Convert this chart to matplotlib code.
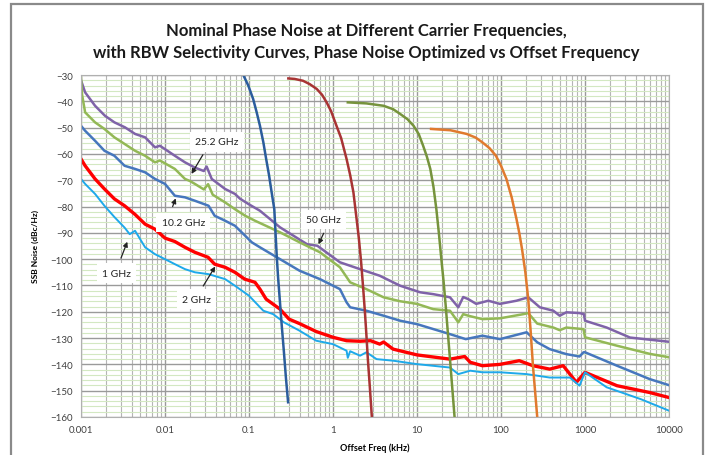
import matplotlib
matplotlib.use("Agg")
import matplotlib.pyplot as plt
from matplotlib.patches import Rectangle
from matplotlib.ticker import FixedLocator, NullFormatter

plt.rcParams['font.family'] = ['Lato', 'DejaVu Sans']

# phase noise curves (offset kHz, dBc/Hz)
ghz50_x = [0.001, 0.00112, 0.00147, 0.00193, 0.0025, 0.00334, 0.0044, 0.0058, 0.0076, 0.0087,
           0.0131, 0.0173, 0.0227, 0.029, 0.0313, 0.036, 0.0518, 0.068, 0.078, 0.098, 0.135,
           0.234, 0.49, 0.65, 1.21, 2.1, 3.6, 6.3, 10.9, 15.6, 24.7, 31, 35.5, 40.8, 50.7, 70.6,
           97, 153, 211, 290, 420, 500, 600, 860, 970, 1000, 1811, 3435, 10000]
ghz50_y = [-32, -36.6, -41.7, -45.5, -48, -49.9, -52.4, -53.7, -57.5, -56.9,
           -60.7, -63.2, -65.2, -66.5, -64.8, -69.5, -73.3, -75.2, -77, -79, -81.6,
           -87.9, -94.3, -94.9, -101.2, -103.8, -106.3, -110.1, -112.6, -113.3, -114.5, -118.3,
           -114.4, -115.2, -117, -115.8, -117, -115.8, -114.5, -118.3, -119.6, -121.5, -120.2,
           -120.5, -120.9, -123.4, -126, -129.8, -131.4]

ghz25_x = [0.001, 0.00103, 0.00112, 0.00147, 0.0019, 0.0025, 0.0033, 0.0044, 0.0058, 0.0076,
           0.0087, 0.0131, 0.0173, 0.0198, 0.0227, 0.029, 0.0326, 0.037, 0.0518, 0.068, 0.09,
           0.118, 0.234, 0.4, 0.7, 1.21, 1.6, 2.5, 4, 6.3, 10, 15.6, 24.7, 31, 35.5, 40.8, 60,
           97, 185, 211, 270, 420, 500, 600, 960, 1000, 2400, 5900, 10000]
ghz25_y = [-31, -37.5, -44.2, -48, -50.5, -53.7, -56.2, -58.8, -60.7, -63.2,
           -62.5, -65.7, -69.5, -70.3, -71.4, -73.5, -71.5, -75.5, -78.4, -81, -83.5,
           -85.4, -89.8, -93.6, -97.4, -103.1, -108.8, -111.4, -114.5, -116, -117, -119, -119.6,
           -124, -120.9, -121.5, -122.8, -122.5, -120.9, -120.5, -124.5, -126, -127, -126,
           -126.6, -129.7, -132.9, -136, -137.3]

ghz10_x = [0.001, 0.00112, 0.00147, 0.0019, 0.0025, 0.0033, 0.0044, 0.0058, 0.0076, 0.01,
           0.0131, 0.0173, 0.0227, 0.033, 0.039, 0.052, 0.068, 0.09, 0.108, 0.135, 0.234, 0.4,
           0.7, 1.21, 1.45, 1.6, 2.5, 4, 6.3, 10, 24.7, 38, 60, 97, 202, 270, 380, 600, 860,
           960, 1000, 2400, 5900, 10000]
ghz10_y = [-49.3, -51.2, -55, -58.8, -60.7, -64.5, -65.7, -67, -69.5, -71.4,
           -75.9, -76.5, -77.8, -79.7, -83.5, -85.4, -87.3, -91.1, -93.6, -95.5, -100, -104.4,
           -107.6, -111.4, -116.4, -118.3, -119.6, -121.5, -123.4, -124.7, -128.5, -130.4,
           -129.1, -130.4, -127.8, -131.6, -134.2, -136.1, -137, -135.4, -135.4, -140.5,
           -145.6, -147.9]

ghz2_x = [0.001, 0.00112, 0.00147, 0.0019, 0.0025, 0.0033, 0.0044, 0.0058, 0.0076, 0.01,
          0.0131, 0.0173, 0.0227, 0.0326, 0.039, 0.052, 0.068, 0.089, 0.118, 0.135, 0.16,
          0.234, 0.3, 0.4, 0.63, 1.0, 1.45, 2.1, 2.8, 3.6, 4, 5.2, 10, 24.7, 37, 43, 60, 97,
          165, 240, 380, 550, 790, 1000, 2400, 5900, 10000]
ghz2_y = [-61.9, -64.5, -69.5, -73.3, -77.1, -79.7, -83, -86.7, -88.6, -92,
          -93.3, -95.5, -97.4, -99.3, -101.9, -103.1, -105, -107.6, -108.8, -111.4, -115.2,
          -119, -122.8, -124.5, -127.5, -129.7, -131, -131.2, -131, -132.3, -131.5, -134.2,
          -136.4, -138, -137, -139.2, -140.5, -140, -138.6, -140.5, -141.8, -140.5, -146.8,
          -143, -148.1, -150.7, -152.6]

ghz1_x = [0.001, 0.00112, 0.00147, 0.0019, 0.0025, 0.0033, 0.0038, 0.0044, 0.0058, 0.0076,
          0.01, 0.0131, 0.0173, 0.0227, 0.033, 0.052, 0.068, 0.1, 0.148, 0.194, 0.26, 0.4,
          0.63, 1.0, 1.45, 1.5, 1.6, 2.1, 2.5, 3.3, 5.2, 10, 24.7, 31, 43, 60, 97, 202, 380,
          660, 860, 1000, 1810, 4600, 10000]
ghz1_y = [-69.5, -71.4, -75.2, -79.7, -84, -88, -90.5, -89.2, -95.5, -98.1,
          -100, -101.9, -103.8, -105, -105.7, -107.6, -110.1, -113.9, -119.6, -120.9, -124,
          -127.2, -131, -132.3, -134.8, -137.5, -135, -136.7, -135.4, -138, -138.6, -139.9,
          -141.2, -143.7, -142.4, -143, -143, -143.7, -145, -145, -148.1, -143, -148.7,
          -153.2, -157.6]

# RBW selectivity curves
rbw1_x = [0.0855, 0.098, 0.112, 0.123, 0.135, 0.148, 0.16, 0.173, 0.186, 0.2, 0.207, 0.214,
          0.222, 0.232, 0.245, 0.26, 0.275, 0.292]
rbw1_y = [-30, -34, -39.1, -44, -49.3, -55.5, -61.9, -68, -74.6, -81, -90, -99,
          -107, -115, -125, -135, -145, -154.4]
rbw2_x = [0.294, 0.35, 0.44, 0.53, 0.64, 0.74, 0.84, 0.95, 1.1, 1.25, 1.45, 1.6, 1.75, 1.91,
          2.03, 2.16, 2.28, 2.4, 2.5, 2.6, 2.75, 2.9]
rbw2_y = [-31.3, -31.5, -32.2, -33.5, -35.3, -37.5, -40.4, -43.8, -49.3, -54, -61.9, -68,
          -74.6, -84.8, -92, -101, -110.5, -120.2, -129, -138, -149, -160]
rbw3_x = [1.5, 2.5, 4, 5.2, 6.3, 7.7, 9.1, 10.5, 11.8, 13.1, 14.4, 15.7, 17, 18.2, 19.5, 20.8,
          22, 23.3, 24.7, 26.3, 28]
rbw3_y = [-40.4, -40.8, -41.7, -43, -44.8, -46.8, -49.3, -52.5, -56.8, -61, -65.7, -72.5, -81,
          -90, -100, -109, -118, -128, -138, -149, -160]
rbw4_x = [14.7, 25, 39, 50, 60, 73, 87, 100, 116, 134, 153, 165, 178, 195, 211, 225, 240, 255,
          270]
rbw4_y = [-50.5, -51, -52.4, -53.8, -55.6, -57.8, -60.7, -64.5, -69.5, -76.5, -84.8, -90,
          -96.2, -105, -115.2, -127, -140.5, -150.5, -160]

# annotations: label, text pos, arrow tail, arrow tip
labels = ["25.2 GHz", "10.2 GHz", "1 GHz", "2 GHz", "50 GHz"]
label_xy = [(0.0412, -55.4), (0.0165, -86), (0.00266, -105.3), (0.0238, -115.2), (0.767, -85)]
tail_xy = [(0.0294, -59.4), (0.0120, -81), (0.00291, -100.6), (0.0274, -111.1), (0.80, -89.2)]
tip_xy = [(0.0199, -68.5), (0.01376, -75.9), (0.00366, -92.4), (0.0412, -101.9), (0.65, -95.3)]

xticks = [0.001, 0.01, 0.1, 1, 10, 100, 1000, 10000]
xtick_labels = ["0.001", "0.01", "0.1", "1", "10", "100", "1000", "10000"]

fig = plt.figure(figsize=(7.13, 4.56), dpi=100)
ax = fig.add_axes([81 / 713, 1 - 418 / 456, 588 / 713, 342 / 456])

# outer frame
fig.patches.append(Rectangle((11 / 713, -0.05), 692 / 713, 1.04, transform=fig.transFigure,
                             fill=False, edgecolor='#8a8a8a', linewidth=1.6))

ax.set_xscale('log')
ax.set_xlim(0.001, 10000)
ax.set_ylim(-160, -30)

# grid: grey majors, light green minor horizontals
minor_x = [m * 10.0 ** e for e in range(-3, 4) for m in range(2, 10)]
ax.xaxis.set_minor_locator(FixedLocator(minor_x))
ax.xaxis.set_minor_formatter(NullFormatter())
ax.set_xticks(xticks)
ax.set_xticklabels(xtick_labels)
ax.set_yticks(range(-160, -29, 10))
ax.yaxis.set_minor_locator(FixedLocator([v for v in range(-158, -30, 2) if v % 10]))
ax.grid(which='minor', axis='y', color='#d3e8c2', linewidth=0.8)
ax.grid(which='minor', axis='x', color='#b5b5b5', linewidth=0.8)
ax.grid(which='major', axis='both', color='#9a9a9a', linewidth=1.0)
ax.set_axisbelow(True)
ax.tick_params(which='both', length=0, labelsize=7, colors='#404040', pad=6)
for s in ax.spines.values():
    s.set_color('#b0b0b0')

ax.plot(ghz50_x, ghz50_y, color='#7f63a8', lw=1.8)
ax.plot(ghz25_x, ghz25_y, color='#93b856', lw=1.8)
ax.plot(ghz10_x, ghz10_y, color='#4677bd', lw=1.8)
ax.plot(ghz2_x, ghz2_y, color='#ff0000', lw=2.4)
ax.plot(ghz1_x, ghz1_y, color='#1ea9ea', lw=1.4)

ax.plot(rbw1_x, rbw1_y, color='#2b5d9c', lw=1.8)
ax.plot(rbw2_x, rbw2_y, color='#a83434', lw=1.8)
ax.plot(rbw3_x, rbw3_y, color='#76933c', lw=1.8)
ax.plot(rbw4_x, rbw4_y, color='#e07a2e', lw=1.8)

for lab, pos, tail, tip in zip(labels, label_xy, tail_xy, tip_xy):
    ax.annotate('', xy=tip, xytext=tail,
                arrowprops=dict(arrowstyle='-|>', color='#222222', lw=0.9, mutation_scale=7))
    ax.text(pos[0], pos[1], lab, fontsize=7.5, ha='center', va='center', color='#222222',
            bbox=dict(boxstyle='square,pad=0.5', facecolor='white', edgecolor='none'))

fig.text(366 / 713, 1 - 31 / 456, "Nominal Phase Noise at Different Carrier Frequencies,",
         ha='center', va='center', fontsize=12, fontweight='bold', color='#1a1a1a')
fig.text(366 / 713, 1 - 53 / 456,
         "with RBW Selectivity Curves, Phase Noise Optimized vs Offset Frequency",
         ha='center', va='center', fontsize=12, fontweight='bold', color='#1a1a1a')
ax.set_ylabel("SSB Noise (dBc/Hz)", fontsize=6, fontweight='bold', labelpad=8)
ax.set_xlabel("Offset Freq (kHz)", fontsize=6.5, fontweight='bold', labelpad=6)

fig.savefig("out.png", dpi=100)
